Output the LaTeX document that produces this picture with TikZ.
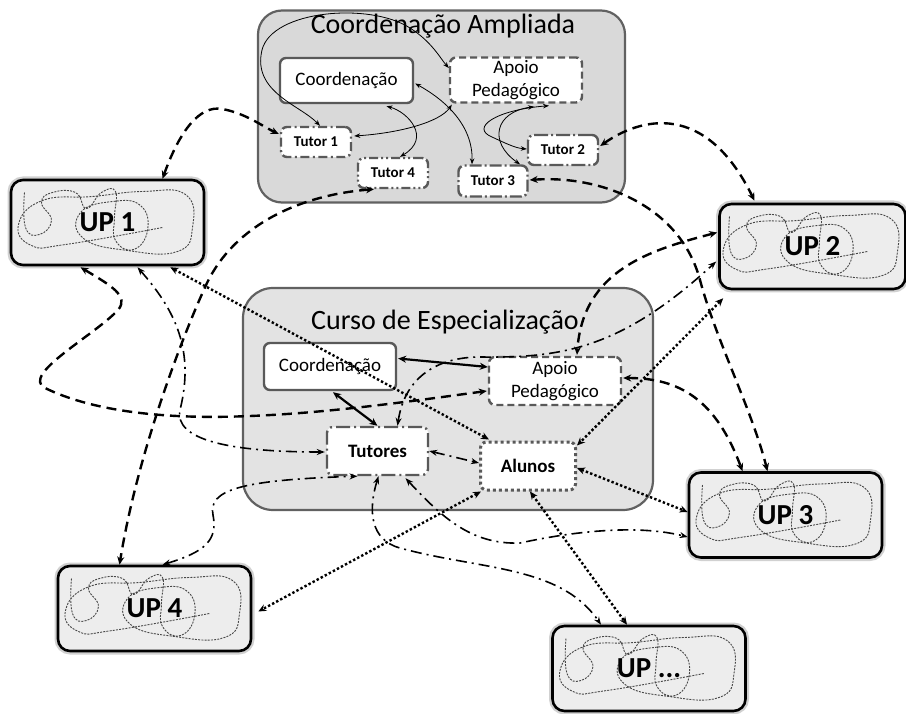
\documentclass[tikz,border=0pt]{standalone}
\usepackage{fontspec}
\setmainfont{Carlito}
\usetikzlibrary{arrows.meta,calc}
\begin{document}
\begin{tikzpicture}[x=1pt,y=-1pt,
  bigbox/.style={draw=black!62, line width=2.2pt, rounded corners=24pt, inner sep=0pt},
  inbox/.style={draw=black!65, fill=white, line width=2.4pt, rounded corners=6pt, inner sep=0pt, align=center},
  solidb/.style={inbox},
  dashb/.style={inbox, dash pattern=on 7pt off 4pt},
  ddb/.style={inbox, dash pattern=on 9pt off 3.5pt on 2pt off 3.5pt},
  dddb/.style={inbox, dash pattern=on 9pt off 3pt on 2pt off 3pt on 2pt off 3pt},
  dotb/.style={inbox, line width=3pt, dash pattern=on 3pt off 3pt},
  upbox/.style={draw=black, fill=black!7, line width=2.6pt, rounded corners=12pt, minimum width=193, minimum height=85, inner sep=0pt, preaction={draw=black!18, line width=7pt}},
  uplab/.style={font=\bfseries\fontsize{29}{31}\selectfont, inner sep=0pt},
  scribline/.style={black!72, line width=0.9pt, dash pattern=on 2pt off 1.2pt, line join=round},
  scrib/.pic={\draw[scribline] plot[smooth, tension=0.8] coordinates {(-83,-30) (-82,5) (-68,12) (-56,-2) (-66,-20) (-55,-30) (-32,-30) (-21,-14) (-6,-30) (8,-31) (7,-5) (8,18) (26,27) (40,8) (33,-17) (5,-21) (-27,-10) (-24,16) (20,28) (70,29) (85,5) (78,-28) (35,-31) (-15,-26) (-65,-22) (-89,2) (-76,23) (-42,22) (55,5)};},
  tut/.style={font=\bfseries\fontsize{15}{17}\selectfont, minimum width=70, minimum height=30},
  lab/.style={font=\fontsize{19}{23}\selectfont},
  cthin/.style={line width=0.8pt, <->, >={Stealth[length=6pt,width=4.5pt]}},
  cdash/.style={line width=2.4pt, dash pattern=on 10pt off 6pt, <->, >={Stealth[length=8pt,width=7pt]}},
  cdd/.style={line width=1.6pt, dash pattern=on 11pt off 5pt on 2pt off 5pt, <->, >={Stealth[length=8pt,width=6pt]}},
  cdot/.style={line width=2.4pt, dash pattern=on 2.4pt off 2.2pt, <->, >={Stealth[length=8pt,width=7pt]}},
  csolid/.style={line width=2.2pt, <->, >={Stealth[length=8pt,width=7pt]}}
]
\useasboundingbox (0,0) rectangle (906,714);
% outer boxes
\node[bigbox, fill=black!15, minimum width=367, minimum height=192] (CA) at (441.5,106.5) {};
\node[bigbox, fill=black!11, minimum width=410, minimum height=222, rounded corners=30pt] (CE) at (448,399) {};
\node[font=\fontsize{28}{30}\selectfont] (tA) at (443,26) {Coordenação Ampliada};
\node[font=\fontsize{28}{30}\selectfont] (tB) at (445,322) {Curso de Especialização};
% top inner nodes
\node[solidb, lab, minimum width=133, minimum height=45] (CoordA) at (346.5,80.5) {Coordenação};
\node[dashb, lab, minimum width=132, minimum height=45] (ApoioA) at (516,80) {Apoio\\Pedagógico};
\node[ddb, tut] (T1) at (316,142) {Tutor 1};
\node[dddb, tut] (T4) at (393,173) {Tutor 4};
\node[ddb, tut, minimum width=69, minimum height=31, dash pattern=on 12pt off 3pt on 2pt off 3pt] (T3) at (493,181) {Tutor 3};
\node[ddb, tut, dash pattern=on 14pt off 3pt on 2pt off 3pt] (T2) at (563,150) {Tutor 2};
% center inner nodes
\node[solidb, lab, minimum width=132, minimum height=47] (CoordB) at (330,366.5) {Coordenação};
\node[dashb, lab, minimum width=132, minimum height=48] (ApoioB) at (555,381) {Apoio\\Pedagógico};
\node[ddb, lab, font=\bfseries\fontsize{19}{23}\selectfont, minimum width=101, minimum height=48, dash pattern=on 14pt off 4pt on 2pt off 4pt] (Tutores) at (377.5,451) {Tutores};
\node[dotb, lab, font=\bfseries\fontsize{19}{23}\selectfont, minimum width=95, minimum height=48] (Alunos) at (528,466) {Alunos};
% UP boxes
\node[upbox] (UP1) at (107.5,222.5) {};
\node[upbox, minimum width=186] (UP2) at (812.5,246.5) {};
\node[upbox] (UP3) at (785.5,515) {};
\node[upbox] (UP4) at (154.5,608.5) {};
\node[upbox] (UPd) at (649,668.5) {};
\pic at (UP1.center) {scrib};
\pic at (UP2.center) {scrib};
\pic at (UP3.center) {scrib};
\pic at (UP4.center) {scrib};
\pic at (UPd.center) {scrib};
\node[uplab] (UP1l) at (UP1.center) {UP 1};
\node[uplab] (UP2l) at (UP2.center) {UP 2};
\node[uplab] (UP3l) at (UP3.center) {UP 3};
\node[uplab] (UP4l) at (UP4.center) {UP 4};
\node[uplab] (UPdl) at (UPd.center) {UP ...};
% thin connectors (top)
\draw[cthin] ($(T1.north)+(4,0)$) .. controls (300,105) and (252,92) .. (262,50) .. controls (272,10) and (370,2) .. (410,28) .. controls (432,42) and (440,58) .. ($(ApoioA.west)+(0,-12)$);
\draw[cthin] ($(ApoioA.south west)+(3,1)$) .. controls (440,122) and (400,133) .. ($(T1.east)+(2,-6)$);
\draw[cthin] ($(CoordA.south)+(40,2)$) .. controls (408,112) and (432,138) .. ($(T4.north)+(7,0)$);
\draw[cthin] ($(CoordA.east)+(1,3)$) .. controls (445,100) and (473,125) .. ($(T3.north)+(-21,0)$);
\draw[cthin] ($(ApoioA.south)+(33,2)$) .. controls (495,110) and (470,128) .. (492,137) .. controls (505,143) and (515,148) .. ($(T2.west)+(0,-1)$);
\draw[cthin] ($(ApoioA.south)+(18,3)$) .. controls (495,112) and (488,142) .. ($(T3.north)+(27,0)$);
% dashed connectors
\draw[cdash] ($(UP1.north)+(55,0)$) .. controls (180,130) and (200,105) .. (222,109) .. controls (245,113) and (262,126) .. ($(T1.west)+(-1,-8)$);
\draw[cdash] ($(T2.east)+(1,-4)$) .. controls (640,118) and (705,100) .. ($(UP2.north)+(-58,-2)$);
\draw[cdash] ($(T3.east)+(1,-1)$) .. controls (600,175) and (680,205) .. (700,280) .. controls (716,340) and (752,410) .. ($(UP3.north)+(-18,0)$);
\draw[cdash] ($(T4.south)+(-19,0)$) .. controls (300,195) and (235,225) .. (207,283) .. controls (185,330) and (138,450) .. ($(UP4.north)+(-35,0)$);
\draw[cdash] ($(UP1.south)+(-27,1)$) .. controls (110,285) and (130,296) .. (118,310) .. controls (95,335) and (20,375) .. (45,388) .. controls (90,410) and (160,420) .. (250,416) .. controls (330,413) and (420,400) .. ($(ApoioB.west)+(-1,10)$);
\draw[cdash] ($(UP2.west)+(-1,-14)$) .. controls (650,250) and (583,270) .. ($(ApoioB.north)+(22,-1)$);
\draw[cdash] ($(ApoioB.east)+(1,-3)$) .. controls (680,378) and (716,400) .. ($(UP3.north)+(-43,0)$);
% dash-dot connectors
\draw[cdd] ($(UP1.south)+(30,1)$) .. controls (175,310) and (195,350) .. (180,410) .. controls (174,440) and (230,452) .. ($(Tutores.west)+(-1,1)$);
\draw[cdd] ($(UP4.north)+(8,0)$) .. controls (205,552) and (218,540) .. (213,515) .. controls (208,490) and (240,480) .. ($(Tutores.south)+(-20,0)$);
\draw[cdd] ($(Tutores.south)+(1,0)$) .. controls (368,510) and (370,540) .. (400,548) .. controls (480,570) and (560,565) .. ($(UPd.north)+(-48,0)$);
\draw[cdd] ($(Tutores.south)+(28,2)$) .. controls (440,515) and (470,545) .. (520,543) .. controls (580,530) and (640,525) .. ($(UP3.west)+(0,22)$);
\draw[cdd] (Tutores.east) -- ($(Alunos.west)+(0,-3)$);
\draw[cdd] ($(Tutores.north)+(20,0)$) .. controls (405,375) and (440,357) .. (480,357) .. controls (560,358) and (620,350) .. ($(UP2.west)+(-2,15)$);
% dotted connectors
\draw[cdot] ($(UP1.south east)+(-35,1)$) -- ($(Alunos.north west)+(10,-1)$);
\draw[cdot] ($(UP2.south west)+(5,8)$) -- ($(Alunos.north east)+(0,5)$);
\draw[cdot] ($(Alunos.east)+(0,2)$) -- ($(UP3.west)+(0,-3)$);
\draw[cdot] ($(Alunos.south west)+(2,0)$) -- ($(UP4.east)+(6,3)$);
\draw[cdot] ($(Alunos.south)+(2,0)$) -- ($(UPd.north)+(-22,0)$);
% thick solid connectors
\draw[csolid] ($(CoordB.east)+(1,-8)$) -- ($(ApoioB.west)+(0,-14)$);
\draw[csolid] ($(CoordB.south)+(3,1)$) -- (Tutores.north);
\end{tikzpicture}
\end{document}
